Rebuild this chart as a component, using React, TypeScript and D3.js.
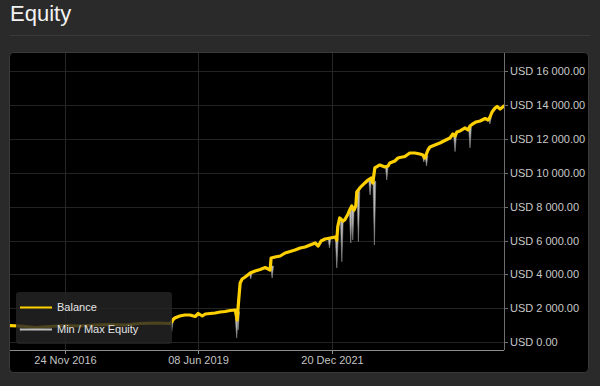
import React from "react";
import * as d3 from "d3";

// ---------- data ----------
const balance: [string, number][] = [
  ["2015-11-09", 974], ["2016-01-17", 956], ["2016-04-30", 867], ["2016-08-12", 926],
  ["2016-11-24", 985], ["2017-03-08", 956], ["2017-06-20", 1015], ["2017-10-02", 1044],
  ["2018-01-14", 1015], ["2018-04-28", 1103], ["2018-08-10", 1133], ["2018-11-22", 1103],
  ["2018-12-06", 1192], ["2018-12-13", 1310], ["2018-12-27", 1428], ["2019-01-31", 1546],
  ["2019-03-07", 1605], ["2019-04-11", 1605], ["2019-05-18", 1516], ["2019-06-08", 1693],
  ["2019-07-06", 1546], ["2019-07-27", 1664], ["2019-08-30", 1693], ["2019-10-04", 1723],
  ["2019-11-07", 1782], ["2019-12-12", 1811], ["2020-01-16", 1870], ["2020-02-20", 1900],
  ["2020-03-04", 1310], ["2020-03-15", 2490], ["2020-03-25", 3493], ["2020-04-08", 3729],
  ["2020-04-29", 3847], ["2020-06-03", 4083], ["2020-07-07", 4201], ["2020-08-11", 4289],
  ["2020-09-15", 4407], ["2020-10-06", 4319], ["2020-10-19", 4260], ["2020-10-26", 4968],
  ["2020-11-23", 5027], ["2020-12-28", 5086], ["2021-01-31", 5263], ["2021-03-07", 5351],
  ["2021-04-10", 5440], ["2021-05-16", 5558], ["2021-06-19", 5617], ["2021-07-24", 5735],
  ["2021-08-28", 5853], ["2021-09-18", 5676], ["2021-10-08", 5971], ["2021-11-05", 6089],
  ["2021-12-10", 6148], ["2022-01-14", 6207], ["2022-01-25", 6030], ["2022-02-01", 6826],
  ["2022-02-14", 7328], ["2022-03-09", 7151], ["2022-03-21", 7210], ["2022-04-13", 7564],
  ["2022-04-25", 7800], ["2022-05-09", 8036], ["2022-05-25", 7800], ["2022-06-06", 8036],
  ["2022-06-13", 8862], ["2022-07-04", 9098], ["2022-08-08", 9393], ["2022-08-30", 9570],
  ["2022-09-20", 9688], ["2022-10-02", 9393], ["2022-10-16", 10278], ["2022-11-20", 10455],
  ["2022-12-25", 10337], ["2023-01-16", 10396], ["2023-01-28", 10573], ["2023-03-04", 10691],
  ["2023-03-26", 10868], ["2023-04-08", 10897], ["2023-05-13", 10956], ["2023-06-16", 11163],
  ["2023-07-21", 11163], ["2023-08-25", 11104], ["2023-09-15", 11045], ["2023-09-29", 10868],
  ["2023-10-20", 11340], ["2023-11-03", 11517], ["2023-12-07", 11635], ["2024-01-11", 11753],
  ["2024-02-14", 11900], ["2024-03-21", 12048], ["2024-04-10", 12284], ["2024-04-25", 12166],
  ["2024-05-08", 12402], ["2024-05-30", 12461], ["2024-07-04", 12638], ["2024-07-24", 12520],
  ["2024-08-07", 12756], ["2024-08-21", 12845], ["2024-09-18", 12992], ["2024-10-16", 13051],
  ["2024-11-20", 13198], ["2024-12-11", 13110], ["2024-12-24", 13287], ["2025-01-07", 13582],
  ["2025-01-28", 13818], ["2025-02-11", 13906], ["2025-03-04", 13759], ["2025-03-18", 13848],
  ["2025-03-31", 13936],
];

// min / max equity excursions: [date, low, high]
const equitySpikes: [string, number, number][] = [
  ["2016-01-20", 620, 950], ["2018-12-06", 631, 1250], ["2020-03-01", 248, 1400],
  ["2020-03-11", 720, 1800], ["2020-06-06", 3729, 4100], ["2020-11-02", 3788, 4500],
  ["2021-12-05", 5557, 6100], ["2022-01-25", 4378, 6100], ["2022-03-01", 4750, 7200],
  ["2022-05-02", 5853, 7800], ["2022-05-16", 6030, 7900], ["2022-06-24", 5930, 8900],
  ["2022-09-13", 8685, 9600], ["2022-10-13", 5735, 9500], ["2023-01-07", 9570, 10400],
  ["2023-09-21", 10632, 11000], ["2023-10-10", 10396, 11000], ["2024-04-25", 11240, 12200],
  ["2024-08-07", 11458, 12700], ["2024-12-23", 12874, 13250],
];

const xTickDates = ["2016-11-24", "2019-06-08", "2021-12-20"];
const xTickLabels = ["24 Nov 2016", "08 Jun 2019", "20 Dec 2021"];
const yTicks = [0, 2000, 4000, 6000, 8000, 10000, 12000, 14000, 16000];
const xDomain = ["2015-11-09", "2025-03-31"];

const parse = d3.timeParse("%Y-%m-%d");
const locale = d3.formatLocale({
  decimal: ".",
  thousands: " ",
  grouping: [3],
  currency: ["USD ", ""],
});
const fmt = locale.format("$,.2f");

const FONT = "'Liberation Sans', Arial, 'DejaVu Sans', sans-serif";

export default function App() {
  const L = 10, R = 504, T = 53, B = 350;
  const x = d3.scaleTime().domain(xDomain.map((d) => parse(d) as Date)).range([L, R]);
  const y = d3.scaleLinear().domain([0, 16000]).range([342.2, 71]);

  const line = d3
    .line<[string, number]>()
    .x((d) => x(parse(d[0]) as Date))
    .y((d) => y(d[1]));

  const spikePath = (s: [string, number, number]) => {
    const cx = x(parse(s[0]) as Date);
    const hw = 1.4;
    return `M${cx - hw},${y(s[2])}L${cx},${y(s[1])}L${cx + hw},${y(s[2])}Z`;
  };

  return (
    <div style={{ position: "absolute", left: 0, top: 0, width: 600, height: 386, background: "#2a2a2a" }}>
      <svg width={600} height={386} style={{ display: "block" }}>
        <defs>
          <clipPath id="plot">
            <rect x={L} y={T} width={R - L} height={B - T} />
          </clipPath>
        </defs>
        <text x={10} y={21} fill="#f2f2f2" fontSize={22} fontFamily={FONT}>Equity</text>
        <line x1={10} x2={590} y1={35.5} y2={35.5} stroke="#3b3b3b" strokeWidth={1} />

        <rect x={9.5} y={52.5} width={579} height={320} rx={4} fill="#000" stroke="#3a3a3a" />

        {/* grid */}
        {yTicks.map((t) => (
          <line key={"g" + t} x1={L} x2={R} y1={Math.round(y(t)) + 0.5} y2={Math.round(y(t)) + 0.5} stroke="#232323" />
        ))}
        {xTickDates.map((d) => {
          const xx = Math.round(x(parse(d) as Date)) + 0.5;
          return <line key={"v" + d} x1={xx} x2={xx} y1={T} y2={B + 4} stroke="#262626" />;
        })}

        {/* series */}
        <g clipPath="url(#plot)">
          {equitySpikes.map((s) => (
            <path key={s[0]} d={spikePath(s)} fill="#bdbdbd" stroke="#8a8a8a" strokeWidth={0.6} />
          ))}
          <path d={line(balance) || ""} fill="none" stroke="#ffd000" strokeWidth={3.2} strokeLinejoin="round" strokeLinecap="round" />
        </g>

        {/* axes */}
        <line x1={L} x2={R} y1={B + 0.5} y2={B + 0.5} stroke="#8c8c8c" />
        <line x1={R + 0.5} x2={R + 0.5} y1={T} y2={B} stroke="#6e6e6e" />
        {xTickDates.map((d, i) => {
          const xx = Math.round(x(parse(d) as Date)) + 0.5;
          return (
            <g key={"xt" + d}>
              <line x1={xx} x2={xx} y1={B} y2={B + 4} stroke="#8c8c8c" />
              <text x={xx} y={364} textAnchor="middle" fill="#c4c4c4" fontSize={11} fontFamily={FONT}>
                {xTickLabels[i]}
              </text>
            </g>
          );
        })}
        {yTicks.map((t) => (
          <g key={"yt" + t}>
            <line x1={R} x2={R + 4} y1={Math.round(y(t)) + 0.5} y2={Math.round(y(t)) + 0.5} stroke="#6e6e6e" />
            <text x={510} y={y(t) + 4} fill="#c8c8c8" fontSize={11} fontFamily={FONT}>
              {fmt(t)}
            </text>
          </g>
        ))}

        {/* legend */}
        <rect x={16} y={292} width={156} height={52} rx={3} fill="rgba(36,36,36,0.82)" />
        <line x1={20} x2={52} y1={307.5} y2={307.5} stroke="#ffd000" strokeWidth={2} />
        <text x={57} y={311} fill="#e6e6e6" fontSize={11} fontFamily={FONT}>Balance</text>
        <line x1={20} x2={52} y1={329.5} y2={329.5} stroke="#bdbdbd" strokeWidth={2} />
        <text x={57} y={333} fill="#e6e6e6" fontSize={11} fontFamily={FONT}>Min / Max Equity</text>
      </svg>
    </div>
  );
}
